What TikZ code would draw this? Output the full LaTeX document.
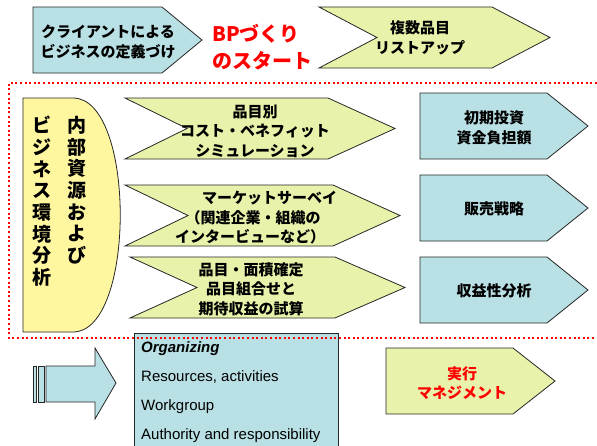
\documentclass[tikz,border=0pt]{standalone}
\usepackage{fontspec}
\setmainfont{Liberation Sans}
\newfontfamily\jpfont{Noto Sans CJK JP}
\usetikzlibrary{positioning}
\definecolor{boxblue}{RGB}{185,224,228}
\definecolor{boxlime}{RGB}{233,242,170}
\definecolor{boxyellow}{RGB}{255,247,160}
\tikzset{
  outline/.style={draw=black!85, line width=0.8pt, line join=miter},
  jptext/.style={font=\jpfont\bfseries\fontsize{15}{19.5}\selectfont, align=center, inner sep=0pt},
  redtext/.style={jptext, text=red},
  vtext/.style={font=\jpfont\bfseries\fontsize{19}{21.7}\selectfont, align=center, inner sep=0pt, anchor=north},
  frame/.style={red, line width=2pt, dash pattern=on 2pt off 2.6pt},
}
\newcommand\homebox[6]{% left, top, corner, tip, bottom, colour
  \draw[outline, fill=#6] (#1,#2) -- (#3,#2) -- (#4,{(#2+#5)/2}) -- (#3,#5) -- (#1,#5) -- cycle;}
\newcommand\chevronbox[7]{% left, notch, top, corner, tip, bottom, colour
  \draw[outline, fill=#7] (#1,#3) -- (#4,#3) -- (#5,{(#3+#6)/2}) -- (#4,#6) -- (#1,#6) -- (#2,{(#3+#6)/2}) -- cycle;}
\begin{document}
\begin{tikzpicture}[x=1pt, y=-1pt]
\useasboundingbox (0,0) rectangle (597,445);
% top row
\homebox{33}{7}{162}{202}{73}{boxblue}
\node[jptext] (client) at (108,42) {クライアントによる\\ビジネスの定義づけ};
\node[redtext, font=\jpfont\bfseries\fontsize{20}{27}\selectfont, align=left, anchor=west] (start) at (212,47) {BPづくり\\のスタート};
\chevronbox{319}{377}{7}{492}{550}{68}{boxlime}
\node[jptext] (listup) at (420,38) {複数品目\\リストアップ};

% left column
\draw[outline, fill=boxyellow] (23,98) -- (73,98) .. controls (136,98) and (136,332) .. (73,332) -- (23,332) -- cycle;
\node[vtext] (inner) at (77,116) {内\\部\\資\\源\\お\\よ\\び};
\node[vtext] (env) at (42,116) {ビ\\ジ\\ネ\\ス\\環\\境\\分\\析};

% middle chevrons
\chevronbox{125}{187}{98}{328}{395}{159}{boxlime}
\chevronbox{125}{188}{185}{333}{400}{246}{boxlime}
\chevronbox{130}{197}{257}{335}{405}{318}{boxlime}
\node[jptext] (cost) at (255,131) {品目別\\コスト・ベネフィット\\シミュレーション};
\node[jptext, align=left, anchor=west] (survey) at (175,218) {\hspace*{1.8em}マーケットサーベイ\\\hspace*{0.7em}（関連企業・組織の\\インタービューなど）};
\node[jptext] (area) at (251,289) {品目・面積確定\\品目組合せと\\期待収益の試算};

% right column
\homebox{420}{93}{547}{588}{159}{boxblue}
\homebox{420}{175}{547}{588}{241}{boxblue}
\homebox{420}{257}{547}{588}{323}{boxblue}
\node[jptext] (invest) at (494,128) {初期投資\\資金負担額};
\node[jptext] (sales) at (494,209) {販売戦略};
\node[jptext] (profit) at (494,291) {収益性分析};

% bottom row
\draw[outline, fill=boxblue] (33,366) rectangle (36,402);
\draw[outline, fill=boxblue] (38,366) rectangle (44,402);
\draw[outline, fill=boxblue] (46,366) -- (95,366) -- (95,348) -- (116,383) -- (95,419) -- (95,402) -- (46,402) -- cycle;
\draw[outline, fill=boxblue] (134,333) rectangle (338,447);
\node[font=\fontsize{15}{29.3}\selectfont, align=left, inner sep=0pt, anchor=north west] (org) at (141,341)
  {{\bfseries\itshape Organizing}\\Resources, activities\\Workgroup\\Authority and responsibility};
\homebox{386}{348}{513}{555}{414}{boxlime}
\node[redtext] (exec) at (462,383) {実行\\マネジメント};

% red dotted frame
\draw[frame] (597,83) -- (9,83) -- (9,338) -- (597,338);
\end{tikzpicture}
\end{document}
